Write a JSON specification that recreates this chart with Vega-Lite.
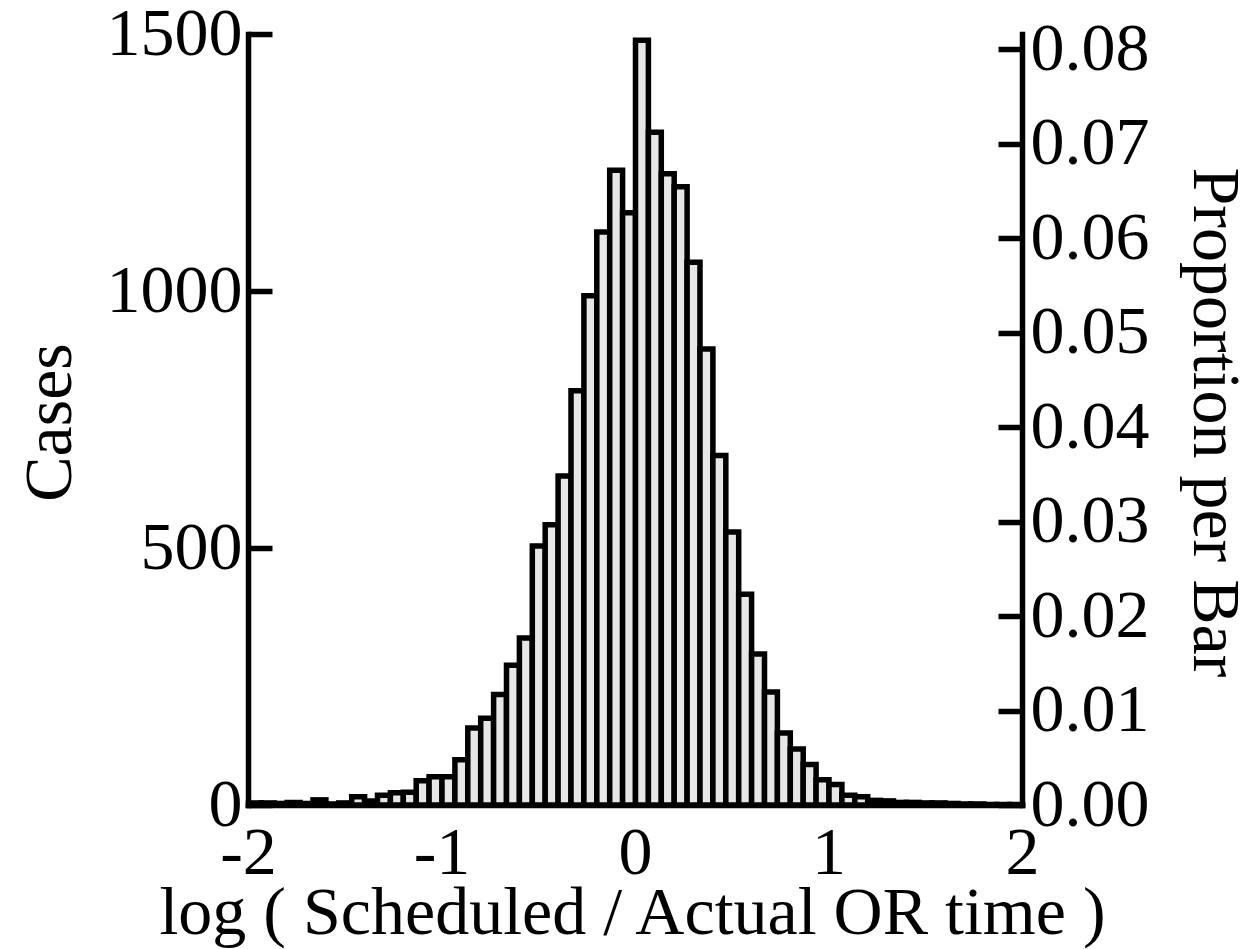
{
  "$schema": "https://vega.github.io/schema/vega-lite/v6.json",
  "width": 774,
  "height": 771,
  "autosize": "none",
  "padding": {"left": 248, "top": 34, "right": 223, "bottom": 144},
  "background": "white",
  "config": {
    "view": {"stroke": null},
    "axis": {
      "domainColor": "black", "domainWidth": 5.5, "domainCap": "square",
      "tickColor": "black", "tickWidth": 5.5, "grid": false,
      "labelFont": "Liberation Serif", "labelFontSize": 68, "labelColor": "black",
      "titleFont": "Liberation Serif", "titleFontSize": 68, "titleColor": "black", "titleFontWeight": "normal"
    }
  },
  "data": {
    "values": [
      {"lo": -2.0, "hi": -1.9333, "cases": 4},
      {"lo": -1.9333, "hi": -1.8667, "cases": 4},
      {"lo": -1.8667, "hi": -1.8, "cases": 3},
      {"lo": -1.8, "hi": -1.7333, "cases": 5},
      {"lo": -1.7333, "hi": -1.6667, "cases": 3},
      {"lo": -1.6667, "hi": -1.6, "cases": 10},
      {"lo": -1.6, "hi": -1.5333, "cases": 2},
      {"lo": -1.5333, "hi": -1.4667, "cases": 4},
      {"lo": -1.4667, "hi": -1.4, "cases": 16},
      {"lo": -1.4, "hi": -1.3333, "cases": 8},
      {"lo": -1.3333, "hi": -1.2667, "cases": 19},
      {"lo": -1.2667, "hi": -1.2, "cases": 24},
      {"lo": -1.2, "hi": -1.1333, "cases": 25},
      {"lo": -1.1333, "hi": -1.0667, "cases": 47},
      {"lo": -1.0667, "hi": -1.0, "cases": 55},
      {"lo": -1.0, "hi": -0.9333, "cases": 55},
      {"lo": -0.9333, "hi": -0.8667, "cases": 88},
      {"lo": -0.8667, "hi": -0.8, "cases": 150},
      {"lo": -0.8, "hi": -0.7333, "cases": 169},
      {"lo": -0.7333, "hi": -0.6667, "cases": 215},
      {"lo": -0.6667, "hi": -0.6, "cases": 272},
      {"lo": -0.6, "hi": -0.5333, "cases": 325},
      {"lo": -0.5333, "hi": -0.4667, "cases": 504},
      {"lo": -0.4667, "hi": -0.4, "cases": 545},
      {"lo": -0.4, "hi": -0.3333, "cases": 640},
      {"lo": -0.3333, "hi": -0.2667, "cases": 806},
      {"lo": -0.2667, "hi": -0.2, "cases": 991},
      {"lo": -0.2, "hi": -0.1333, "cases": 1115},
      {"lo": -0.1333, "hi": -0.0667, "cases": 1235},
      {"lo": -0.0667, "hi": 0.0, "cases": 1152},
      {"lo": 0.0, "hi": 0.0667, "cases": 1488},
      {"lo": 0.0667, "hi": 0.1333, "cases": 1309},
      {"lo": 0.1333, "hi": 0.2, "cases": 1228},
      {"lo": 0.2, "hi": 0.2667, "cases": 1203},
      {"lo": 0.2667, "hi": 0.3333, "cases": 1056},
      {"lo": 0.3333, "hi": 0.4, "cases": 887},
      {"lo": 0.4, "hi": 0.4667, "cases": 680},
      {"lo": 0.4667, "hi": 0.5333, "cases": 531},
      {"lo": 0.5333, "hi": 0.6, "cases": 410},
      {"lo": 0.6, "hi": 0.6667, "cases": 294},
      {"lo": 0.6667, "hi": 0.7333, "cases": 220},
      {"lo": 0.7333, "hi": 0.8, "cases": 140},
      {"lo": 0.8, "hi": 0.8667, "cases": 109},
      {"lo": 0.8667, "hi": 0.9333, "cases": 79},
      {"lo": 0.9333, "hi": 1.0, "cases": 49},
      {"lo": 1.0, "hi": 1.0667, "cases": 40},
      {"lo": 1.0667, "hi": 1.1333, "cases": 19},
      {"lo": 1.1333, "hi": 1.2, "cases": 16},
      {"lo": 1.2, "hi": 1.2667, "cases": 9},
      {"lo": 1.2667, "hi": 1.3333, "cases": 8},
      {"lo": 1.3333, "hi": 1.4, "cases": 5},
      {"lo": 1.4, "hi": 1.4667, "cases": 5},
      {"lo": 1.4667, "hi": 1.5333, "cases": 4},
      {"lo": 1.5333, "hi": 1.6, "cases": 4},
      {"lo": 1.6, "hi": 1.6667, "cases": 3},
      {"lo": 1.6667, "hi": 1.7333, "cases": 2},
      {"lo": 1.7333, "hi": 1.8, "cases": 2},
      {"lo": 1.8, "hi": 1.8667, "cases": 1},
      {"lo": 1.8667, "hi": 1.9333, "cases": 1},
      {"lo": 1.9333, "hi": 2.0, "cases": 1}
    ]
  },
  "transform": [
    {"joinaggregate": [{"op": "sum", "field": "cases", "as": "total"}]},
    {"calculate": "datum.cases / datum.total", "as": "prop"}
  ],
  "layer": [
    {
      "mark": {"type": "bar", "fill": "#e6e6e6", "stroke": "black", "strokeWidth": 5.5, "strokeJoin": "miter", "binSpacing": 0},
      "encoding": {
        "x": {
          "field": "lo", "type": "quantitative", "bin": "binned",
          "scale": {"domain": [-2, 2], "nice": false, "zero": false},
          "axis": {
            "orient": "bottom", "values": [-2, -1, 0, 1, 2], "ticks": false,
            "labelExpr": "'' + datum.value",
            "labelPadding": 14, "labelFlush": false, "labelOverlap": false,
            "title": "log ( Scheduled / Actual OR time )",
            "titleBaseline": "alphabetic", "titleY": 128, "titleX": 384
          }
        },
        "x2": {"field": "hi"},
        "y": {
          "field": "cases", "type": "quantitative",
          "scale": {"domain": [0, 1500], "nice": false},
          "axis": {
            "orient": "left", "values": [0, 500, 1000, 1500], "tickSize": -24, "format": "d",
            "labelPadding": 30, "labelFlush": false, "labelOverlap": false,
            "title": "Cases", "titleAngle": 270, "titleBaseline": "alphabetic",
            "titleAlign": "center", "titleX": -178, "titleY": 388
          }
        },
        "y2": {"datum": 0}
      }
    },
    {
      "mark": {"type": "point", "opacity": 0},
      "encoding": {
        "x": {"field": "lo", "type": "quantitative"},
        "y": {
          "field": "prop", "type": "quantitative",
          "scale": {"domain": [0, 0.0816], "nice": false},
          "axis": {
            "orient": "right", "values": [0, 0.01, 0.02, 0.03, 0.04, 0.05, 0.06, 0.07, 0.08],
            "format": ".2f", "tickSize": -24, "labelPadding": 32,
            "labelFlush": false, "labelOverlap": false,
            "title": "Proportion per Bar", "titleAngle": 90, "titleBaseline": "alphabetic",
            "titleAlign": "center", "titleX": 171, "titleY": 388
          }
        }
      }
    }
  ],
  "resolve": {"scale": {"y": "independent"}}
}
